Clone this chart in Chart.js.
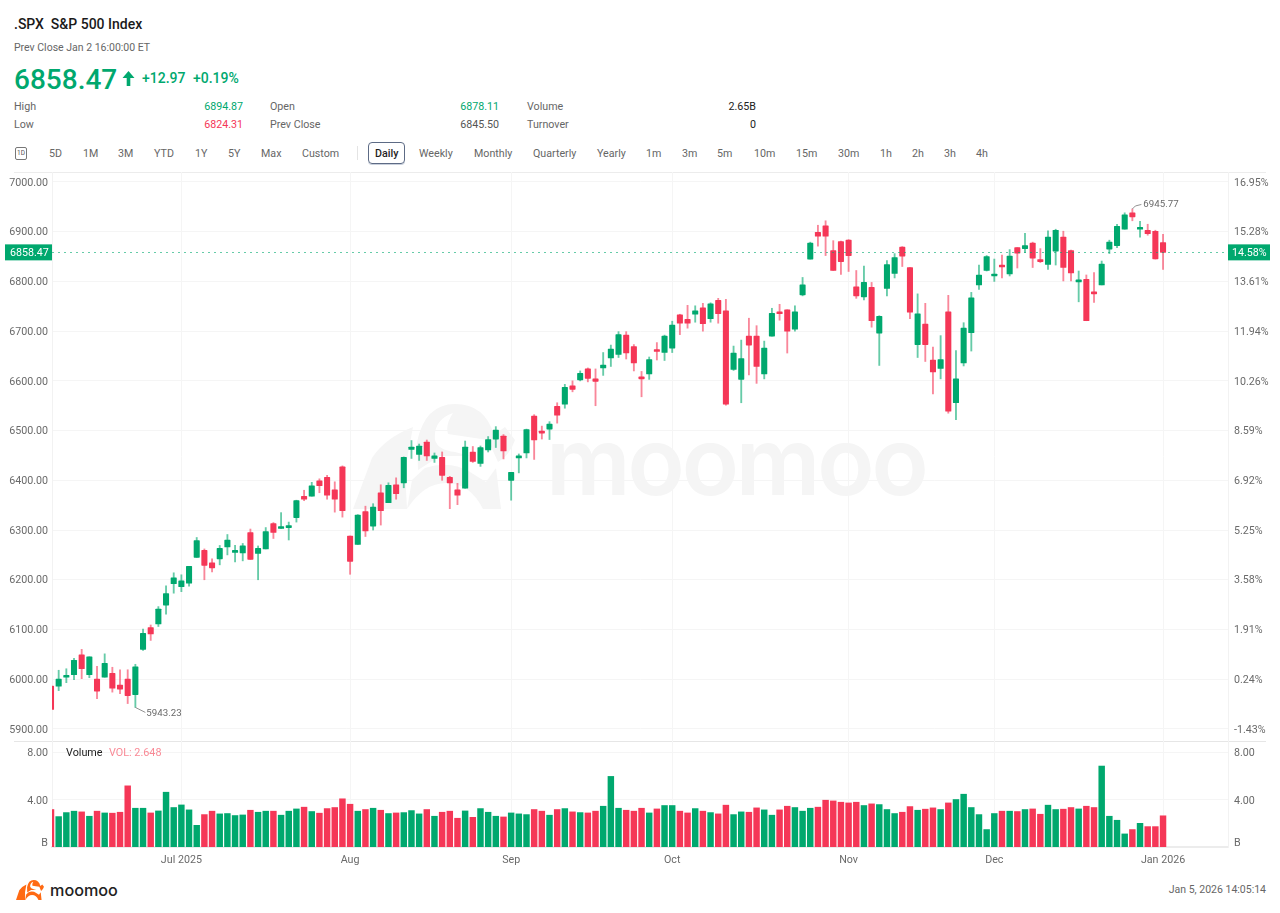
<!DOCTYPE html>
<html>
<head>
<meta charset="utf-8">
<script src="https://cdn.jsdelivr.net/npm/chart.js@4/dist/chart.umd.min.js"></script>
<style>
html,body{margin:0;padding:0;background:#fff;overflow:hidden;width:1280px;height:913px;font-family:Roboto,sans-serif;}
.t{position:absolute;white-space:pre;line-height:1;transform:translateY(-50%);color:#666;font-size:10.7px;}
.r{transform:translate(-100%,-50%);}
.line{position:absolute;height:1px;background:#ececec;left:14px;width:1252px;}
canvas{position:absolute;left:0;}
#wm{position:absolute;left:546px;top:461px;transform:translateY(-50%);font:600 94px Inter,sans-serif;letter-spacing:-3.1px;color:#f5f5f5;line-height:1;}
</style>
</head>
<body>
<svg width="0" height="0" style="position:absolute"><defs>
<g id="bull">
<path d="M353 509 L372 458 Q385 438 413 427 L405 470 L407 509 Z"/>
<path d="M407 509 Q424 483 446 483 Q470 483 483 509 L501 509 L496 468 L486 482 L470 472 Q450 460 425 468 L412 480 Z"/>
<path d="M417 442 Q425 404 455 404 Q485 404 494 435 L505 427 L515 440 Q510 455 498 462 L488 440 L448 434 Q445 425 453 413 Q433 420 435 440 Q438 450 455 452 L470 456 L440 456 L418 470 Z"/>
</g></defs></svg>
<svg style="position:absolute;left:353px;top:404px" width="162" height="105" viewBox="353 404 162 105" fill="#f5f5f5"><use href="#bull"/></svg>
<div id="wm">moomoo</div>

<div class="t" style="left:14px;top:24px;font-size:14px;font-weight:500;color:#1a1a1a">.SPX  S&amp;P 500 Index</div>
<div class="t" style="left:14px;top:48px;font-size:10.5px">Prev Close Jan 2 16:00:00 ET</div>
<div class="t" style="left:14px;top:80px;font-size:28px;font-weight:500;color:#00a86e">6858.47</div>
<svg style="position:absolute;left:122px;top:71px" width="13" height="15" viewBox="0 0 13 15"><path d="M6.5 0 L12.5 7 H8.3 V15 H4.7 V7 H0.5 Z" fill="#00a86e"/></svg>
<div class="t" style="left:142px;top:78px;font-size:14px;font-weight:500;color:#00a86e">+12.97</div>
<div class="t" style="left:193px;top:78px;font-size:14px;font-weight:500;color:#00a86e">+0.19%</div>

<div class="t" style="left:14px;top:107px">High</div>
<div class="t r" style="left:243px;top:107px;color:#00a86e">6894.87</div>
<div class="t" style="left:270px;top:107px">Open</div>
<div class="t r" style="left:499px;top:107px;color:#00a86e">6878.11</div>
<div class="t" style="left:527px;top:107px">Volume</div>
<div class="t r" style="left:756px;top:107px;color:#222">2.65B</div>
<div class="t" style="left:14px;top:125px">Low</div>
<div class="t r" style="left:243px;top:125px;color:#f53757">6824.31</div>
<div class="t" style="left:270px;top:125px">Prev Close</div>
<div class="t r" style="left:499px;top:125px;color:#555">6845.50</div>
<div class="t" style="left:527px;top:125px">Turnover</div>
<div class="t r" style="left:756px;top:125px;color:#222">0</div>

<div id="toolbar"></div>
<div style="position:absolute;left:15px;top:147px;width:10px;height:11px;border:1px solid #777;border-radius:2px;font-size:6.5px;line-height:11px;text-align:center;color:#555">1D</div>
<div style="position:absolute;left:357px;top:146px;width:1px;height:14px;background:#e4e4e4"></div>
<div style="position:absolute;left:368px;top:142px;width:35px;height:20px;border:1px solid #5d6b85;border-radius:4px;box-shadow:0 1px 0 #c9d0dc"></div>
<div class="t" style="left:375px;top:154px;font-weight:500;color:#1f1f1f">Daily</div>

<div class="line" style="top:172px"></div>
<div class="line" style="top:741px;background:#e6e6e6"></div>

<canvas id="price" width="1280" height="576" style="top:165px"></canvas>
<canvas id="vol" width="1280" height="134" style="top:741px"></canvas>

<div class="t" style="left:66px;top:753px;font-size:10.8px;color:#222">Volume</div>
<div class="t" style="left:109px;top:753px;font-size:10.8px;color:#f98a96">VOL: 2.648</div>

<svg style="position:absolute;left:16px;top:880px" width="28" height="20" viewBox="353 404 162 105" preserveAspectRatio="none" fill="#ff6a13"><use href="#bull"/></svg>
<div class="t" style="left:50px;top:890px;font:500 16.2px Inter,sans-serif;color:#222">moomoo</div>
<div class="t r" style="left:1266px;top:890px;font-size:10.5px">Jan 5, 2026 14:05:14</div>

<script>
const dates = [
"2025-06-05","2025-06-06","2025-06-09","2025-06-10","2025-06-11","2025-06-12","2025-06-13","2025-06-16","2025-06-17","2025-06-18","2025-06-20","2025-06-23","2025-06-24","2025-06-25","2025-06-26","2025-06-27","2025-06-30",
"2025-07-01","2025-07-02","2025-07-03","2025-07-07","2025-07-08","2025-07-09","2025-07-10","2025-07-11","2025-07-14","2025-07-15","2025-07-16","2025-07-17","2025-07-18","2025-07-21","2025-07-22","2025-07-23","2025-07-24","2025-07-25","2025-07-28","2025-07-29","2025-07-30","2025-07-31",
"2025-08-01","2025-08-04","2025-08-05","2025-08-06","2025-08-07","2025-08-08","2025-08-11","2025-08-12","2025-08-13","2025-08-14","2025-08-15","2025-08-18","2025-08-19","2025-08-20","2025-08-21","2025-08-22","2025-08-25","2025-08-26","2025-08-27","2025-08-28","2025-08-29",
"2025-09-02","2025-09-03","2025-09-04","2025-09-05","2025-09-08","2025-09-09","2025-09-10","2025-09-11","2025-09-12","2025-09-15","2025-09-16","2025-09-17","2025-09-18","2025-09-19","2025-09-22","2025-09-23","2025-09-24","2025-09-25","2025-09-26","2025-09-29","2025-09-30",
"2025-10-01","2025-10-02","2025-10-03","2025-10-06","2025-10-07","2025-10-08","2025-10-09","2025-10-10","2025-10-13","2025-10-14","2025-10-15","2025-10-16","2025-10-17","2025-10-20","2025-10-21","2025-10-22","2025-10-23","2025-10-24","2025-10-27","2025-10-28","2025-10-29","2025-10-30","2025-10-31",
"2025-11-03","2025-11-04","2025-11-05","2025-11-06","2025-11-07","2025-11-10","2025-11-11","2025-11-12","2025-11-13","2025-11-14","2025-11-17","2025-11-18","2025-11-19","2025-11-20","2025-11-21","2025-11-24","2025-11-25","2025-11-26","2025-11-28",
"2025-12-01","2025-12-02","2025-12-03","2025-12-04","2025-12-05","2025-12-08","2025-12-09","2025-12-10","2025-12-11","2025-12-12","2025-12-15","2025-12-16","2025-12-17","2025-12-18","2025-12-19","2025-12-22","2025-12-23","2025-12-24","2025-12-26","2025-12-29","2025-12-30","2025-12-31",
"2026-01-02"];
const open = [
5986,5986,6004,6009,6049,6009,6000,6004,6012,5988,
6000,5969,6060,6104,6111,6149,6192,6186,6193,6245,
6259,6234,6242,6266,6255,6254,6295,6253,6262,6313,
6303,6305,6325,6368,6368,6399,6406,6381,6427,6288,
6271,6337,6308,6375,6355,6391,6395,6462,6452,6477,
6444,6446,6406,6381,6384,6457,6434,6461,6483,6489,
6400,6445,6455,6529,6498,6503,6549,6553,6590,6602,
6624,6604,6626,6646,6653,6692,6669,6608,6614,6662,
6657,6666,6733,6724,6734,6747,6725,6762,6741,6623,
6603,6690,6690,6614,6690,6739,6743,6704,6773,6845,
6899,6912,6862,6880,6883,6789,6769,6788,6696,6786,
6816,6869,6828,6673,6714,6642,6625,6739,6556,6636,
6697,6793,6822,6811,6832,6815,6868,6866,6877,6843,
6834,6861,6889,6862,6799,6804,6779,6793,6865,6872,
6905,6938,6905,6903,6901,6878.11];
const close = [
5939,6000,6006,6038,6021,6045,5976,6032,5982,5980,
5967,6025,6092,6091,6141,6172,6204,6198,6227,6279,
6229,6224,6263,6280,6259,6268,6241,6263,6297,6295,
6305,6309,6359,6362,6389,6389,6370,6362,6339,6237,
6330,6298,6346,6339,6390,6373,6446,6467,6469,6449,
6449,6410,6395,6370,6467,6438,6466,6482,6501,6459,
6416,6448,6502,6481,6495,6513,6531,6587,6583,6615,
6605,6599,6632,6664,6693,6656,6636,6604,6643,6659,
6690,6712,6716,6716,6741,6715,6755,6735,6553,6656,
6645,6672,6629,6666,6736,6735,6700,6739,6793,6877,
6891,6891,6822,6840,6852,6771,6798,6721,6730,6834,
6848,6851,6738,6735,6673,6618,6643,6539,6604,6706,
6767,6813,6850,6815,6829,6851,6857,6872,6847,6840,
6889,6903,6828,6817,6803,6721,6775,6835,6879,6911,
6934,6930,6907,6896,6845.5,6858.47];
const high = [
5986,6018,6021,6042,6060,6045,6026,6051,6024,6019,
6019,6030,6101,6109,6146,6188,6214,6210,6227,6285,
6262,6242,6269,6291,6269,6273,6302,6268,6305,6315,
6335,6316,6360,6380,6396,6403,6410,6397,6429,6288,
6331,6348,6353,6391,6395,6405,6447,6480,6473,6481,
6455,6457,6408,6394,6479,6468,6469,6488,6508,6492,
6416,6453,6503,6532,6509,6518,6556,6593,6600,6620,
6626,6624,6657,6672,6699,6699,6673,6619,6648,6677,
6692,6720,6734,6752,6751,6756,6757,6766,6764,6670,
6682,6726,6711,6680,6746,6754,6743,6751,6808,6879,
6913,6922,6882,6881,6884,6822,6831,6798,6731,6842,
6856,6870,6828,6775,6756,6668,6691,6772,6661,6717,
6778,6833,6852,6845,6853,6864,6868,6897,6879,6866,
6902,6905,6901,6863,6821,6813,6818,6841,6883,6915,
6938,6945.77,6921,6915,6903,6894.87];
const low = [
5939,5977,5993,5999,6001,6003,5961,6004,5974,5971,
5951,5943.23,6058,6078,6106,6131,6173,6176,6187,6245,
6200,6216,6230,6250,6236,6238,6241,6200,6262,6283,
6303,6280,6316,6359,6368,6375,6362,6336,6326,6211,
6271,6287,6300,6310,6355,6362,6385,6444,6440,6440,
6436,6400,6343,6351,6384,6436,6428,6457,6466,6443,
6360,6415,6445,6442,6483,6482,6515,6545,6578,6600,
6598,6550,6611,6629,6647,6644,6620,6568,6603,6642,
6641,6657,6693,6706,6718,6700,6718,6716,6551,6621,
6556,6612,6595,6604,6690,6722,6656,6700,6771,6845,
6871,6852,6822,6814,6820,6766,6763,6708,6631,6771,
6807,6830,6725,6647,6639,6574,6604,6535,6522,6630,
6660,6784,6821,6800,6807,6811,6827,6858,6828,6838,
6824,6833,6801,6801,6759,6721,6758,6793,6856,6868,
6905,6922,6889,6893,6845,6824.31];
const volume = [
3.18,2.58,2.92,3.04,2.98,2.61,3.04,2.89,2.87,2.95,
5.19,3.29,3.29,2.89,3.06,4.65,3.35,3.57,3.15,1.84,
2.75,3.04,2.81,2.84,2.67,2.72,3.12,2.95,3.04,3.04,
2.70,3.04,3.23,3.38,3.01,2.87,3.26,3.35,4.09,3.63,
3.04,3.18,3.29,3.12,2.84,2.89,2.92,3.09,2.81,3.18,
2.61,2.95,3.04,2.44,3.06,2.52,3.26,2.95,2.61,2.55,
2.89,2.81,2.75,3.18,3.04,2.70,3.18,3.26,2.98,2.92,
2.89,3.04,3.46,5.99,3.29,3.12,3.04,3.29,2.89,3.23,
3.52,3.52,3.04,2.89,3.26,3.04,2.92,2.81,3.55,2.75,
2.98,2.95,3.32,3.15,2.70,3.15,3.46,3.35,3.04,3.29,
3.38,3.97,3.91,3.80,3.74,3.80,3.52,3.66,3.60,3.18,
2.84,2.95,3.43,3.12,3.21,3.32,3.18,3.74,4.03,4.48,
3.35,2.75,1.48,2.84,3.04,3.04,3.01,3.18,3.23,2.78,
3.55,3.18,3.21,3.35,3.23,3.46,3.35,6.87,2.61,2.27,
1.11,1.48,2.01,1.73,1.73,2.648];

const priceTicks = [5900,6000,6100,6200,6300,6400,6500,6600,6700,6800,6900,7000];
const pctLabels = ["-1.43%","0.24%","1.91%","3.58%","5.25%","6.92%","8.59%","10.26%","11.94%","13.61%","15.28%","16.95%"];
const volTicks = [0.42,4,8];
const volUnitLabel = "B";
const monthStartDates = ["2025-07-01","2025-08-01","2025-09-02","2025-10-01","2025-11-03","2025-12-01","2026-01-02"];
const monthLabels = ["Jul 2025","Aug","Sep","Oct","Nov","Dec","Jan 2026"];
const lastPrice = 6858.47, lastPctLabel = "14.58%";
const lowMark = {index:11, value:5943.23, label:"5943.23"};
const highMark = {index:141, value:6945.77, label:"6945.77"};

const GREEN="#00a86e", RED="#f53757", GREEN_W="rgba(0,168,110,.6)", RED_W="rgba(245,55,87,.6)";
const GRID="#f5f5f5", TXT="#6a6a6a", FONT={family:"Roboto",size:10.7};
const isUp = i => close[i] >= open[i];
const xMin = 0.13, xMax = 153.47;
const monthIdx = monthStartDates.map(d => dates.indexOf(d));

function noPad(s){ s.paddingTop=0; s.paddingBottom=0; s.paddingLeft=0; s.paddingRight=0; }
function xScale(showLabels){
  return {
    type:"linear", min:xMin, max:xMax, offset:false,
    grid:{offset:false,color:GRID,drawTicks:false,lineWidth:1},
    border:{display:showLabels,color:"#ececec",width:showLabels?2:0},
    afterBuildTicks(s){ s.ticks = monthIdx.map(v=>({value:v})); },
    afterFit(s){ s.height = showLabels ? 28 : 0; noPad(s); },
    ticks:{display:showLabels,autoSkip:false,maxRotation:0,color:TXT,font:FONT,padding:7,
      callback(v){ const k=monthIdx.indexOf(v); return k<0?"":monthLabels[k]; }}
  };
}
function yScale(pos,min,max,ticksList,cb){
  return {
    type:"linear", position:pos, min, max,
    grid:{display:pos==="left",color:c=>(c.tick&&c.tick.value<1)?"transparent":GRID,drawTicks:false},
    border:{display:true,color:"#f2f2f2"},
    afterBuildTicks(s){ s.ticks = ticksList.map(v=>({value:v})); },
    afterFit(s){ s.width = 52; noPad(s); },
    ticks:{autoSkip:false,color:TXT,font:FONT,padding:pos==="left"?4:6,labelOffset:1,callback:cb}
  };
}

const overlay = {
  id:"overlay",
  afterDatasetsDraw(ch){
    const {ctx,chartArea:a,scales:{x,y}} = ch;
    const yp = y.getPixelForValue(lastPrice);
    ctx.save();
    ctx.strokeStyle="rgba(0,168,110,.6)"; ctx.lineWidth=1; ctx.setLineDash([2,4]);
    ctx.beginPath(); ctx.moveTo(a.left,Math.round(yp)+.5); ctx.lineTo(a.right,Math.round(yp)+.5); ctx.stroke();
    ctx.setLineDash([]);
    ctx.fillStyle=GREEN;
    ctx.fillRect(5,yp-8,47,16); ctx.fillRect(1228,yp-8,42,16);
    ctx.fillStyle="#fff"; ctx.font="10.7px Roboto"; ctx.textBaseline="middle";
    ctx.textAlign="left";
    ctx.fillText(lastPrice.toFixed(2),10,yp+.5);
    ctx.fillText(lastPctLabel,1232,yp+.5);
    ctx.font="9.7px Roboto"; ctx.fillStyle=TXT; ctx.strokeStyle="#777"; ctx.lineWidth=.8;
    const lx=x.getPixelForValue(lowMark.index), ly=y.getPixelForValue(lowMark.value);
    ctx.beginPath(); ctx.moveTo(lx,ly); ctx.lineTo(lx+10,ly+5); ctx.stroke();
    ctx.fillText(lowMark.label,lx+11,ly+6);
    const hx=x.getPixelForValue(highMark.index), hy=y.getPixelForValue(highMark.value);
    ctx.beginPath(); ctx.moveTo(hx,hy); ctx.lineTo(hx+3,hy-3); ctx.lineTo(hx+9,hy-4.5); ctx.stroke();
    ctx.fillText(highMark.label,hx+11,hy-4.5);
    ctx.restore();
  }
};

new Chart(document.getElementById("price"),{
  type:"bar",
  data:{datasets:[
    {label:"Body",data:dates.map((d,i)=>({x:i,y:[open[i],close[i]]})),
     backgroundColor:dates.map((d,i)=>isUp(i)?GREEN:RED),
     barThickness:5.4,grouped:false,minBarLength:2,borderSkipped:false,borderRadius:.6},
    {label:"Wick",data:dates.map((d,i)=>({x:i,y:[low[i],high[i]]})),
     backgroundColor:dates.map((d,i)=>isUp(i)?GREEN_W:RED_W),
     barThickness:1.2,grouped:false}
  ]},
  options:{
    responsive:false,animation:false,devicePixelRatio:1,
    layout:{padding:{top:7,bottom:0,left:0,right:0}},
    plugins:{legend:{display:false},tooltip:{enabled:false}},
    scales:{
      x:xScale(false),
      y:yScale("left",5875.7,7020.1,priceTicks,v=>v.toFixed(2)),
      y1:yScale("right",5875.7,7020.1,priceTicks,v=>pctLabels[priceTicks.indexOf(v)])
    }
  },
  plugins:[overlay]
});

new Chart(document.getElementById("vol"),{
  type:"bar",
  data:{datasets:[
    {label:"Volume",data:dates.map((d,i)=>({x:i,y:volume[i]})),
     backgroundColor:dates.map((d,i)=>isUp(i)?GREEN:RED),
     barThickness:5.8,grouped:false}
  ]},
  options:{
    responsive:false,animation:false,devicePixelRatio:1,
    layout:{padding:0},
    plugins:{legend:{display:false},tooltip:{enabled:false}},
    scales:{
      x:xScale(true),
      y:yScale("left",0,8.996,volTicks,v=>v<1?volUnitLabel:v.toFixed(2)),
      y1:yScale("right",0,8.996,volTicks,v=>v<1?volUnitLabel:v.toFixed(2))
    }
  }
});

const toolbarLabels = ["5D","1M","3M","YTD","1Y","5Y","Max","Custom","Weekly","Monthly","Quarterly","Yearly","1m","3m","5m","10m","15m","30m","1h","2h","3h","4h"];
const toolbarX = [49,83,118,154,195,228,261,302,419,474,533,597,646,682,717,754,796,838,880,912,944,976];
const tb=document.getElementById("toolbar");
toolbarLabels.forEach((l,i)=>{const e=document.createElement("div");e.className="t";e.textContent=l;e.style.left=toolbarX[i]+"px";e.style.top="154px";tb.appendChild(e);});
</script>
</body>
</html>
